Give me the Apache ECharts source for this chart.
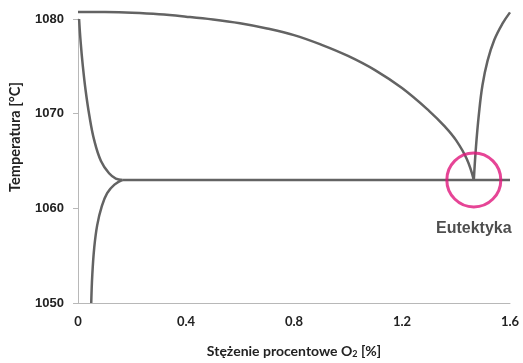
<!DOCTYPE html>
<html>
<head>
<meta charset="utf-8">
<script src="https://cdn.jsdelivr.net/npm/echarts@6/dist/echarts.min.js"></script>
<style>
  html, body { margin: 0; padding: 0; background: #fff; }
  #chart { width: 523px; height: 363px; }
</style>
</head>
<body>
<div id="chart"></div>
<script>
// curves of the Cu-O diagram, [stężenie %, temperatura °C]
const liquidus = [
  [0, 1080.75], [0.1, 1080.73], [0.2, 1080.65], [0.3, 1080.5], [0.4, 1080.25],
  [0.5, 1079.95], [0.6, 1079.55], [0.7, 1079.0], [0.8, 1078.3], [0.9, 1077.3],
  [1.0, 1076.1], [1.1, 1074.6], [1.2, 1072.7], [1.3, 1070.3], [1.36, 1068.6],
  [1.4, 1067.2], [1.44, 1065.2], [1.466, 1063]
]
const rightCurve = [
  [1.466, 1063], [1.474, 1066.5], [1.485, 1070.0], [1.498, 1073.0], [1.517, 1075.6],
  [1.542, 1077.8], [1.572, 1079.5], [1.6, 1080.7]
]
const solvusUpper = [
  [0.004, 1080], [0.01, 1077.5], [0.018, 1075.0], [0.028, 1072.5], [0.042, 1069.8],
  [0.06, 1067.2], [0.085, 1065.0], [0.115, 1063.7], [0.14, 1063.15], [0.165, 1063]
]
const solvusLower = [
  [0.049, 1050], [0.053, 1053.0], [0.06, 1055.8], [0.071, 1058.2], [0.088, 1060.2],
  [0.108, 1061.6], [0.135, 1062.5], [0.165, 1063]
]
const eutecticLine = [[0.165, 1063], [1.6, 1063]]
const eutecticPoint = [[1.466, 1063]]
const xTicks = { min: 0, max: 1.6, step: 0.4 }
const yTicks = { min: 1050, max: 1080, step: 10 }

const chart = echarts.init(document.getElementById('chart'))
const lineColor = '#636363'
const curve = (data, smooth) => ({
  type: 'line', data, smooth, symbol: 'none', clip: false,
  lineStyle: { color: lineColor, width: 2.5 }
})

chart.setOption({
  animation: false,
  grid: { left: 78, right: 13, top: 19, bottom: 60, outerBoundsMode: 'none', containLabel: false },
  xAxis: {
    type: 'value', min: xTicks.min, max: xTicks.max, interval: xTicks.step,
    splitLine: { show: false },
    axisTick: { show: false },
    axisLine: { lineStyle: { color: '#b8b8b8', width: 1 } },
    axisLabel: { color: '#222', fontSize: 13, fontWeight: 'bold', fontFamily: 'Lato', margin: 12 },
    name: '{a|Stężenie procentowe O}{s|2}{a| [%]}',
    nameLocation: 'middle', nameGap: 41,
    nameTextStyle: {
      rich: {
        a: { fontSize: 14, fontWeight: 'bold', fontFamily: 'Lato', color: '#222' },
        s: { fontSize: 9, fontWeight: 'bold', fontFamily: 'Lato', color: '#222', verticalAlign: 'bottom', padding: [6, 0, 0, 0] }
      }
    }
  },
  yAxis: {
    type: 'value', min: yTicks.min, max: yTicks.max, interval: yTicks.step,
    splitLine: { show: false },
    axisLine: { show: true, lineStyle: { color: '#b8b8b8', width: 1 } },
    axisTick: { show: true, length: 5, lineStyle: { color: '#b8b8b8' } },
    axisLabel: {
      color: '#222', fontSize: 13, fontWeight: 'bold', fontFamily: 'Liberation Sans', margin: 14,
      formatter: v => String(v)
    },
    name: 'Temperatura [°C]',
    nameLocation: 'middle', nameGap: 55,
    nameTextStyle: {
      color: '#222', fontSize: 14.5, fontWeight: 'bold', fontFamily: 'Lato',
      padding: [0, 0, 0, 48]
    }
  },
  series: [
    curve(liquidus, 0.4),
    curve(rightCurve, 0.4),
    curve(solvusUpper, 0.4),
    curve(solvusLower, 0.4),
    curve(eutecticLine, false),
    {
      type: 'scatter', data: eutecticPoint, symbol: 'circle', symbolSize: 54, z: 10,
      itemStyle: { color: 'rgba(0,0,0,0)', borderColor: '#E0177C', borderWidth: 3 },
      label: {
        show: true, position: 'bottom', distance: 12, formatter: 'Eutektyka',
        color: '#222', fontSize: 16, fontWeight: 'bold', fontFamily: 'Liberation Sans'
      }
    }
  ]
})
</script>
</body>
</html>
